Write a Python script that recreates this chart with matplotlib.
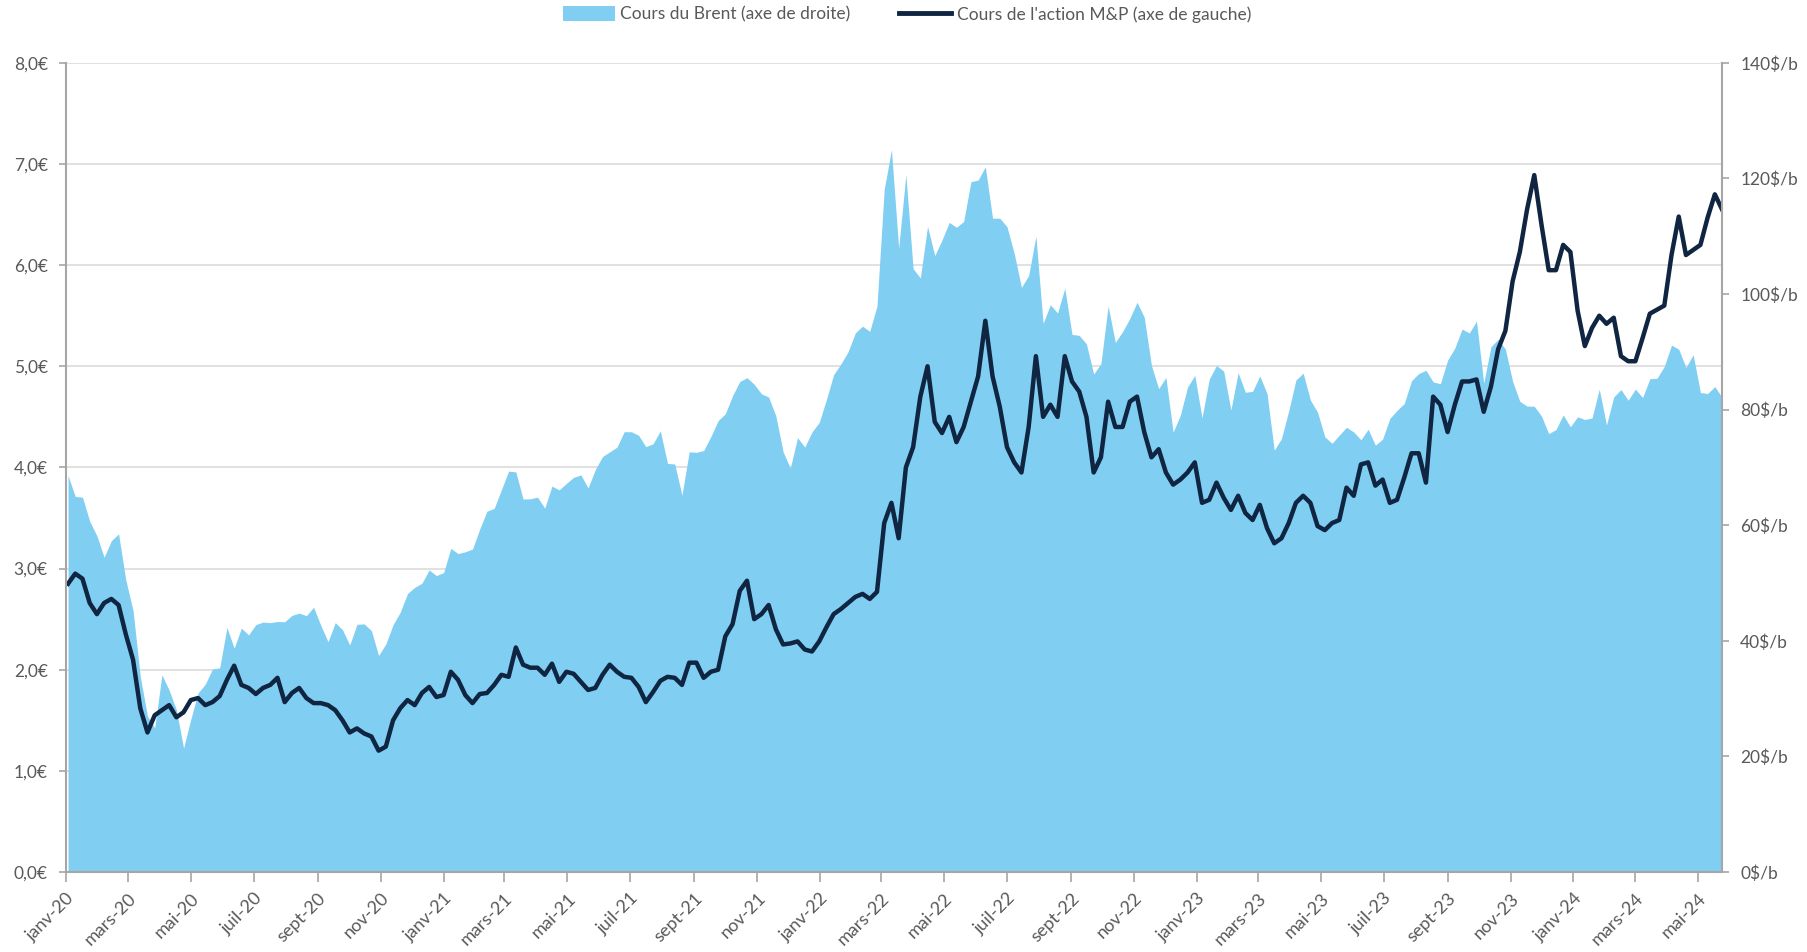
import numpy as np
import pandas as pd
import matplotlib
matplotlib.use('Agg')
import matplotlib.pyplot as plt
from matplotlib.ticker import FuncFormatter

plt.rcParams['font.family'] = ['Lato', 'DejaVu Sans']

# Donnees hebdomadaires (vendredis)
dates = pd.date_range('2020-01-03', '2024-05-24', freq='W-FRI')

# Brent ($/b) - axe de droite
brent = [
    # 2020
    68.60, 64.98, 64.85, 60.69, 58.16, 54.47, 57.32, 58.50, 50.52, 45.27,
    33.85, 26.98, 24.93, 34.11, 31.48, 28.08, 21.44, 26.44, 30.97, 32.50,
    35.13, 35.33, 42.30, 38.73, 42.19, 41.02, 42.80, 43.24, 43.14, 43.34,
    43.30, 44.40, 44.80, 44.35, 45.81, 42.66, 39.83, 43.15, 41.92, 39.27,
    42.85, 42.93, 41.77, 37.46, 39.45, 42.78, 44.96, 48.18, 49.25, 49.97,
    52.26, 51.29,
    # 2021
    51.80, 55.99, 55.10, 55.41, 55.88, 59.34, 62.43, 62.91, 66.13, 69.36,
    69.22, 64.53, 64.57, 64.86, 62.95, 66.77, 66.11, 67.25, 68.28, 68.71,
    66.44, 69.63, 71.89, 72.69, 73.51, 76.18, 76.17, 75.55, 73.59, 74.10,
    76.33, 70.70, 70.59, 65.18, 72.70, 72.61, 72.92, 75.34, 78.09, 79.28,
    82.39, 84.86, 85.53, 84.38, 82.74, 82.17, 78.89, 72.72, 69.88, 75.15,
    73.52, 76.14, 77.78,
    # 2022
    81.75, 86.06, 87.89, 90.03, 93.27, 94.44, 93.54, 97.93, 118.11, 125.00,
    107.93, 120.65, 104.39, 102.78, 111.70, 106.65, 109.34, 112.39, 111.55, 112.55,
    119.43, 119.72, 122.01, 113.12, 113.12, 111.63, 107.02, 101.16, 103.20, 110.01,
    94.92, 98.15, 96.72, 100.99, 93.02, 92.84, 91.35, 86.15, 87.96, 97.92,
    91.63, 93.50, 95.77, 98.57, 95.99, 87.62, 83.63, 85.57, 76.10, 79.04,
    83.92, 85.91,
    # 2023
    78.57, 85.28, 87.63, 86.66, 79.94, 86.39, 83.00, 83.16, 85.83, 82.78,
    72.97, 74.99, 79.77, 85.12, 86.31, 81.66, 79.54, 75.30, 74.17, 75.58,
    76.95, 76.13, 74.79, 76.61, 73.85, 74.90, 78.47, 79.87, 81.07, 84.99,
    86.24, 86.81, 84.80, 84.48, 88.55, 90.65, 93.93, 93.27, 95.31, 84.58,
    90.89, 92.16, 90.48, 84.89, 81.43, 80.61, 80.58, 78.88, 75.84, 76.55,
    79.07, 77.04,
    # 2024
    78.76, 78.29, 78.56, 83.55, 77.33, 82.19, 83.47, 81.62, 83.55, 82.08,
    85.34, 85.43, 87.48, 91.17, 90.45, 87.29, 89.50, 82.96, 82.79, 83.98,
    82.12,
]

# Cours de l'action M&P (EUR) - axe de gauche
mp = [
    2.85, 2.95, 2.90, 2.66, 2.55, 2.66, 2.70, 2.64, 2.35, 2.10,
    1.62, 1.38, 1.55, 1.60, 1.65, 1.53, 1.58, 1.70, 1.72, 1.65,
    1.68, 1.74, 1.90, 2.04, 1.85, 1.82, 1.76, 1.82, 1.85, 1.92,
    1.68, 1.77, 1.82, 1.72, 1.67, 1.67, 1.65, 1.60, 1.50, 1.38,
    1.42, 1.37, 1.34, 1.20, 1.24, 1.50, 1.62, 1.70, 1.65, 1.77,
    1.83, 1.73, 1.75, 1.98, 1.90, 1.75, 1.67, 1.76, 1.77, 1.85,
    1.95, 1.93, 2.22, 2.05, 2.02, 2.02, 1.95, 2.06, 1.88, 1.98,
    1.96, 1.88, 1.80, 1.82, 1.95, 2.05, 1.98, 1.93, 1.92, 1.83,
    1.68, 1.78, 1.89, 1.93, 1.92, 1.85, 2.07, 2.07, 1.92, 1.98,
    2.00, 2.33, 2.45, 2.78, 2.88, 2.50, 2.55, 2.64, 2.40, 2.25,
    2.26, 2.28, 2.20, 2.18, 2.28, 2.42, 2.55, 2.60, 2.66, 2.72,
    2.75, 2.70, 2.77, 3.45, 3.65, 3.30, 4.00, 4.20, 4.70, 5.00,
    4.45, 4.34, 4.50, 4.25, 4.40, 4.65, 4.90, 5.45, 4.90, 4.60,
    4.20, 4.05, 3.95, 4.40, 5.10, 4.50, 4.62, 4.50, 5.10, 4.85,
    4.75, 4.50, 3.95, 4.10, 4.65, 4.40, 4.40, 4.65, 4.70, 4.35,
    4.10, 4.18, 3.95, 3.83, 3.88, 3.95, 4.05, 3.65, 3.68, 3.85,
    3.70, 3.58, 3.72, 3.55, 3.48, 3.63, 3.40, 3.25, 3.30, 3.45,
    3.65, 3.72, 3.65, 3.42, 3.38, 3.45, 3.48, 3.80, 3.72, 4.03,
    4.05, 3.82, 3.88, 3.65, 3.68, 3.90, 4.14, 4.14, 3.85, 4.70,
    4.62, 4.35, 4.62, 4.85, 4.85, 4.87, 4.55, 4.80, 5.17, 5.35,
    5.84, 6.13, 6.55, 6.89, 6.40, 5.95, 5.95, 6.20, 6.13, 5.55,
    5.20, 5.38, 5.50, 5.42, 5.48, 5.10, 5.05, 5.05, 5.28, 5.52,
    5.56, 5.60, 6.10, 6.48, 6.10, 6.15, 6.20, 6.47, 6.70, 6.55,
]

mois = ['janv', 'févr', 'mars', 'avr', 'mai', 'juin',
        'juil', 'août', 'sept', 'oct', 'nov', 'déc']
ticks_x = pd.date_range('2020-01-01', '2024-05-01', freq='2MS')
labels_x = [f"{mois[d.month - 1]}-{d.strftime('%y')}" for d in ticks_x]

c_area = '#80CEF2'
c_line = '#0F2541'
c_axis = '#A6A6A6'
c_text = '#595959'

fig = plt.figure(figsize=(18.07, 9.52), dpi=100)
ax = fig.add_axes([0.0365, 0.084, 0.9165, 0.850])
ax2 = ax.twinx()   # Brent (aire)
ax3 = ax.twinx()   # M&P (ligne)

# axe de gauche + grille
ax.set_ylim(0, 8)
ax.set_yticks(np.arange(0, 9, 1))
ax.yaxis.set_major_formatter(FuncFormatter(lambda v, p: f"{v:.1f}€".replace('.', ',')))
ax.grid(axis='y', color='#D9D9D9', linewidth=1.1)
ax.set_axisbelow(True)

# Brent
ax2.fill_between(dates, brent, 0, color=c_area, linewidth=0,
                 label='Cours du Brent (axe de droite)')
ax2.set_ylim(0, 140)
ax2.set_yticks(np.arange(0, 141, 20))
ax2.yaxis.set_major_formatter(FuncFormatter(lambda v, p: f"{int(v)}$/b"))

# M&P
ax3.plot(dates, mp, color=c_line, linewidth=3.2, solid_joinstyle='round',
         label="Cours de l'action M&P (axe de gauche)")
ax3.set_ylim(0, 8)
ax3.set_yticks([])

ax.set_xlim(pd.Timestamp('2020-01-01'), dates[-1])
ax.set_xticks(ticks_x)
ax.set_xticklabels(labels_x, rotation=45, ha='right', va='top',
                   rotation_mode='anchor')

for a in (ax, ax2):
    for s in a.spines.values():
        s.set_visible(False)
ax3.spines['top'].set_visible(False)
for s in ('left', 'right', 'bottom'):
    ax3.spines[s].set_color(c_axis)
    ax3.spines[s].set_linewidth(1.5)

ax.tick_params(axis='y', length=5, width=1.2, color=c_axis, labelcolor=c_text,
               labelsize=12.5, pad=8)
ax2.tick_params(axis='y', length=5, width=1.2, color=c_axis, labelcolor=c_text,
                labelsize=12.5, pad=8)
ax.tick_params(axis='x', length=7, width=1.2, color=c_axis, labelcolor=c_text,
               labelsize=13, pad=6)

h2, l2 = ax2.get_legend_handles_labels()
h3, l3 = ax3.get_legend_handles_labels()
leg = fig.legend(h2 + h3, l2 + l3, loc='center', bbox_to_anchor=(0.502, 0.985),
                 ncol=2, frameon=False, fontsize=12.5, handlelength=3.0,
                 handleheight=1.0, handletextpad=0.3, columnspacing=2.8)
for t in leg.get_texts():
    t.set_color(c_text)
for lh in leg.legend_handles[1:]:
    lh.set_linewidth(3.5)

fig.savefig('out.png', dpi=100)
